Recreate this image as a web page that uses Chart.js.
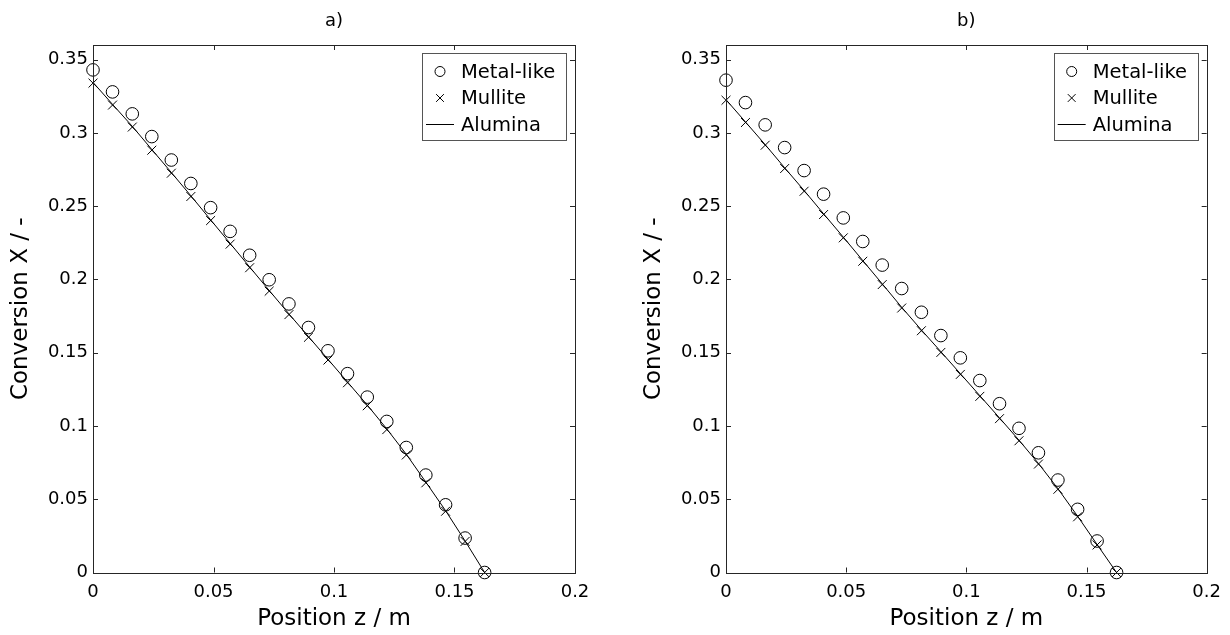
<!DOCTYPE html>
<html>
<head>
<meta charset="utf-8">
<script src="https://cdn.jsdelivr.net/npm/chart.js@4.4.1/dist/chart.umd.min.js"></script>
<style>
  html, body { margin: 0; padding: 0; background: #fff; }
  #wrap { position: relative; width: 1230px; height: 635px; }
  .cell { position: absolute; top: 0; width: 615px; height: 635px; }
  #c1 { left: 0; }
  #c2 { left: 615px; }
</style>
</head>
<body>
<div id="wrap">
  <div class="cell" id="c1"><canvas id="chartA"></canvas></div>
  <div class="cell" id="c2"><canvas id="chartB"></canvas></div>
</div>
<script>
// ---------- data ----------
const positions = [0, 0.0081, 0.0163, 0.0244, 0.0325, 0.0406, 0.0488, 0.0569, 0.065, 0.0731,
  0.0813, 0.0894, 0.0975, 0.1056, 0.1138, 0.1219, 0.13, 0.1381, 0.1463, 0.1544, 0.1625];

const metalA   = [0.343, 0.328, 0.313, 0.2975, 0.2815, 0.2655, 0.249, 0.2328, 0.2165, 0.1998,
  0.1833, 0.1672, 0.1513, 0.1357, 0.1197, 0.1031, 0.0853, 0.0665, 0.0462, 0.0235, 0];
const mulliteA = [0.334, 0.319, 0.304, 0.2882, 0.2725, 0.2566, 0.2402, 0.2241, 0.208, 0.192,
  0.176, 0.1605, 0.145, 0.1295, 0.1138, 0.0975, 0.0802, 0.0612, 0.0418, 0.0212, 0];
const aluminaA = [0.3345, 0.3195, 0.3045, 0.2887, 0.273, 0.2571, 0.2407, 0.2246, 0.2085, 0.1925,
  0.1765, 0.161, 0.1455, 0.13, 0.1143, 0.098, 0.0807, 0.0617, 0.0422, 0.0215, 0];

const metalB   = [0.336, 0.3207, 0.3055, 0.29, 0.2743, 0.2582, 0.242, 0.2259, 0.2098, 0.1938,
  0.1776, 0.1617, 0.1465, 0.131, 0.1152, 0.0984, 0.0817, 0.0631, 0.0431, 0.0215, 0];
const mulliteB = [0.3223, 0.3071, 0.2916, 0.2757, 0.2602, 0.2443, 0.2284, 0.2124, 0.1965, 0.1805,
  0.165, 0.1502, 0.1352, 0.1202, 0.105, 0.0899, 0.074, 0.0568, 0.038, 0.0188, 0];
const aluminaB = [0.3227, 0.3075, 0.292, 0.2762, 0.2607, 0.2448, 0.2289, 0.2129, 0.197, 0.181,
  0.1655, 0.1507, 0.1357, 0.1207, 0.1055, 0.0903, 0.0744, 0.0572, 0.0384, 0.0191, 0];

const seriesNames = ['Metal-like', 'Mullite', 'Alumina'];
const panelTitles = ['a)', 'b)'];
const xTicks = [0, 0.05, 0.1, 0.15, 0.2];
const xTickLabels = ['0', '0.05', '0.1', '0.15', '0.2'];
const yTicks = [0, 0.05, 0.1, 0.15, 0.2, 0.25, 0.3, 0.35];
const yTickLabels = ['0', '0.05', '0.1', '0.15', '0.2', '0.25', '0.3', '0.35'];
const xTitle = 'Position z / m';
const yTitle = 'Conversion X / -';

// ---------- styling ----------
const FONT = '"DejaVu Sans", sans-serif';
const INK = '#000';
const FRAME = '#262626';

function pts(xs, ys) { return xs.map((x, i) => ({ x: x, y: ys[i] })); }

// frame + inward ticks on all four sides
const framePlugin = {
  id: 'frame',
  afterDraw(chart) {
    const { ctx, chartArea: a, scales } = chart;
    ctx.save();
    ctx.strokeStyle = FRAME;
    ctx.lineWidth = 1;
    ctx.strokeRect(Math.round(a.left) + 0.5, Math.round(a.top) + 0.5,
      Math.round(a.right - a.left), Math.round(a.bottom - a.top));
    const L = 5;
    ctx.beginPath();
    scales.x.ticks.forEach(t => {
      const px = Math.round(scales.x.getPixelForValue(t.value)) + 0.5;
      ctx.moveTo(px, a.bottom); ctx.lineTo(px, a.bottom - L);
      ctx.moveTo(px, a.top); ctx.lineTo(px, a.top + L);
    });
    scales.y.ticks.forEach(t => {
      const py = Math.round(scales.y.getPixelForValue(t.value)) + 0.5;
      ctx.moveTo(a.left, py); ctx.lineTo(a.left + L, py);
      ctx.moveTo(a.right, py); ctx.lineTo(a.right - L, py);
    });
    ctx.stroke();
    ctx.restore();
  }
};

// MATLAB-like legend box inside the upper right corner
const legendPlugin = {
  id: 'boxLegend',
  afterDraw(chart) {
    const { ctx, chartArea: a } = chart;
    const right = a.right - 9, top = a.top + 8;
    const w = 144, rowH = 26.5, h = 87;
    const left = right - w;
    ctx.save();
    ctx.fillStyle = '#fff';
    ctx.fillRect(left, top, w, h);
    ctx.strokeStyle = '#555';
    ctx.lineWidth = 1;
    ctx.strokeRect(Math.round(left) + 0.5, Math.round(top) + 0.5, w, h);
    ctx.textBaseline = 'middle';
    ctx.textAlign = 'left';
    chart.data.datasets.forEach((ds, i) => {
      const cy = top + 18.5 + i * rowH;
      const sx = left + 18;
      ctx.strokeStyle = INK;
      ctx.lineWidth = 1;
      if (ds.showLine) {
        ctx.beginPath();
        ctx.moveTo(left + 4, cy); ctx.lineTo(left + 32, cy);
        ctx.stroke();
      } else {
        ctx.fillStyle = 'rgba(0,0,0,0)';
        Chart.helpers.drawPoint(ctx, {
          pointStyle: ds.pointStyle, radius: ds.legendRadius, rotation: 0, borderWidth: 1
        }, sx, cy);
      }
      ctx.font = '19.5px ' + FONT;
      ctx.fillStyle = INK;
      ctx.fillText(ds.label, left + 39, cy + 1);
    });
    ctx.restore();
  }
};

function makeChart(id, title, metal, mullite, alumina, padL, padR) {
  return new Chart(document.getElementById(id), {
    type: 'scatter',
    data: {
      datasets: [
        { label: seriesNames[0], data: pts(positions, metal), pointStyle: 'circle',
          pointRadius: 6.3, pointHoverRadius: 6.3, borderColor: INK, backgroundColor: 'rgba(0,0,0,0)',
          pointBorderWidth: 1, showLine: false, clip: false, legendRadius: 5 },
        { label: seriesNames[1], data: pts(positions, mullite), pointStyle: 'crossRot',
          pointRadius: 6.3, pointHoverRadius: 6.3, borderColor: INK, backgroundColor: INK,
          pointBorderWidth: 1, showLine: false, clip: false, legendRadius: 5.5 },
        { label: seriesNames[2], data: pts(positions, alumina), showLine: true,
          pointRadius: 0, borderColor: INK, borderWidth: 1, tension: 0, clip: false }
      ]
    },
    options: {
      responsive: true,
      maintainAspectRatio: false,
      animation: false,
      events: [],
      layout: { padding: { left: padL, right: padR, top: 0, bottom: 0 } },
      plugins: {
        legend: { display: false },
        tooltip: { enabled: false },
        title: {
          display: true, text: title, fullSize: false, color: INK,
          font: { family: FONT, size: 18, weight: 'normal' },
          padding: { top: 11, bottom: 12.4 }
        }
      },
      scales: {
        x: {
          type: 'linear', min: 0, max: 0.2,
          afterBuildTicks: s => { s.ticks = xTicks.map(v => ({ value: v })); },
          afterFit: s => { s.height = 62.5; },
          grid: { display: false, drawTicks: false },
          border: { display: false },
          ticks: {
            color: INK, padding: 9, maxRotation: 0, autoSkip: false,
            font: { family: FONT, size: 18 },
            callback: (v) => xTickLabels[xTicks.indexOf(Math.round(v * 100) / 100)]
          },
          title: { display: true, text: xTitle, color: INK,
            font: { family: FONT, size: 23 }, padding: { top: 0, bottom: 2 } }
        },
        y: {
          type: 'linear', min: 0, max: 0.36,
          afterBuildTicks: s => { s.ticks = yTicks.map(v => ({ value: v })); },
          afterFit: s => { s.width = 93; },
          grid: { display: false, drawTicks: false },
          border: { display: false },
          ticks: {
            color: INK, padding: 5, autoSkip: false,
            font: { family: FONT, size: 18 },
            callback: (v) => yTickLabels[yTicks.indexOf(Math.round(v * 100) / 100)]
          },
          title: { display: true, text: yTitle, color: INK,
            font: { family: FONT, size: 23 }, padding: { top: 7, bottom: 0 } }
        }
      }
    },
    plugins: [framePlugin, legendPlugin]
  });
}

makeChart('chartA', panelTitles[0], metalA, mulliteA, aluminaA, 0, 40);
makeChart('chartB', panelTitles[1], metalB, mulliteB, aluminaB, 18, 23);
</script>
</body>
</html>
